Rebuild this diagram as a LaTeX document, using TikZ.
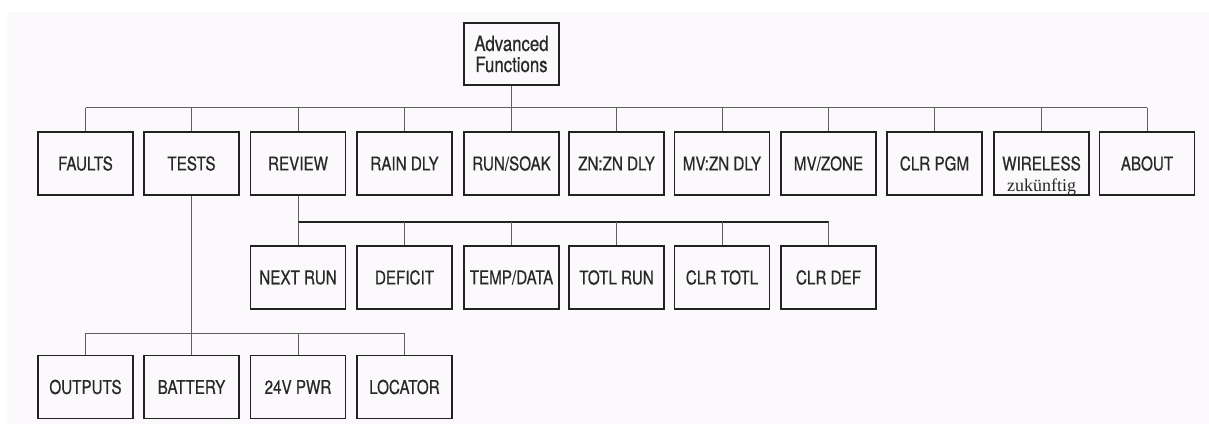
\documentclass[tikz,border=0pt]{standalone}
\usepackage{fontspec}
\setmainfont{TeX Gyre Heros}[FakeStretch=0.8, FakeBold=0.5]
\newfontfamily\notefont{Liberation Serif}
\usepackage{tikz}
\usetikzlibrary{calc,positioning}
\definecolor{boxline}{RGB}{34,34,34}
\definecolor{linkgray}{RGB}{95,95,95}
\definecolor{labelgray}{RGB}{40,40,40}
\definecolor{paper}{RGB}{251,249,251}
\tikzset{
  menubox/.style={draw=boxline, line width=1.3pt, minimum width=95pt, minimum height=63pt,
    inner sep=0pt, text=labelgray, align=center, font=\fontsize{19}{21}\selectfont},
  link/.style={linkgray, line width=0.8pt},
  mainlink/.style={boxline, line width=1.4pt},
}

\begin{document}
\begin{tikzpicture}[x=1pt,y=1pt]
\useasboundingbox (0,0) rectangle (1209,424);
\fill[paper] (7,0) rectangle (1209,412);
% root
\node[menubox, minimum height=62pt, font=\fontsize{21}{21}\selectfont] (adv) at (511.5,370) {Advanced\\Functions};
% first level
\node[menubox] (faults)   at (85.5,260.5)   {FAULTS};
\node[menubox] (tests)    at (191.5,260.5)  {TESTS};
\node[menubox] (review)   at (298,260.5)    {REVIEW};
\node[menubox] (raindly)  at (404.5,260.5)  {RAIN DLY};
\node[menubox] (runsoak)  at (511.5,260.5)  {RUN/SOAK};
\node[menubox] (znzn)     at (616.5,260.5)  {ZN:ZN DLY};
\node[menubox] (mvzn)     at (722,260.5)    {MV:ZN DLY};
\node[menubox] (mvzone)   at (828.5,260.5)  {MV/ZONE};
\node[menubox] (clrpgm)   at (934.5,260.5)  {CLR PGM};
\node[menubox] (wireless) at (1041.5,260.5) {WIRELESS};
\node[menubox] (about)    at (1147,260.5)   {ABOUT};
\node[inner sep=0pt, text=labelgray, font=\notefont\fontsize{18}{18}\selectfont] (wirenote)
  at ($(wireless.center)+(0,-24)$) {zukünftig};
% review menu
\node[menubox] (nextrun)  at (298,146.5)   {NEXT RUN};
\node[menubox] (deficit)  at (404.5,146.5) {DEFICIT};
\node[menubox] (tempdata) at (511.5,146.5) {TEMP/DATA};
\node[menubox] (totlrun)  at (616.5,146.5) {TOTL RUN};
\node[menubox] (clrtotl)  at (722,146.5)   {CLR TOTL};
\node[menubox] (clrdef)   at (828.5,146.5) {CLR DEF};
% tests menu
\node[menubox] (outputs)  at (85.5,37)  {OUTPUTS};
\node[menubox] (battery)  at (191.5,37) {BATTERY};
\node[menubox] (pwr)      at (298,37)   {24V PWR};
\node[menubox] (locator)  at (404.5,37) {LOCATOR};

% connectors
\coordinate (topbus) at (0,316.5);
\coordinate (reviewbus) at (0,202);
\coordinate (testbus) at (0,91);
\draw[link] (adv.south) -- (adv.south |- topbus);
\draw[link] (faults.north |- topbus) -- (about.north |- topbus);
\foreach \n in {faults,tests,review,raindly,runsoak,znzn,mvzn,mvzone,clrpgm,wireless,about}
  \draw[link] (\n.north |- topbus) -- (\n.north);

\draw[link] (review.south) -- (review.south |- reviewbus);
\draw[mainlink] (nextrun.north |- reviewbus) -- (clrdef.north |- reviewbus);
\foreach \n in {nextrun,deficit,tempdata,totlrun,clrtotl,clrdef}
  \draw[link] (\n.north |- reviewbus) -- (\n.north);

\draw[link] (tests.south) -- (battery.north);
\draw[link] (outputs.north |- testbus) -- (locator.north |- testbus);
\foreach \n in {outputs,pwr,locator}
  \draw[link] (\n.north |- testbus) -- (\n.north);
\end{tikzpicture}
\end{document}
